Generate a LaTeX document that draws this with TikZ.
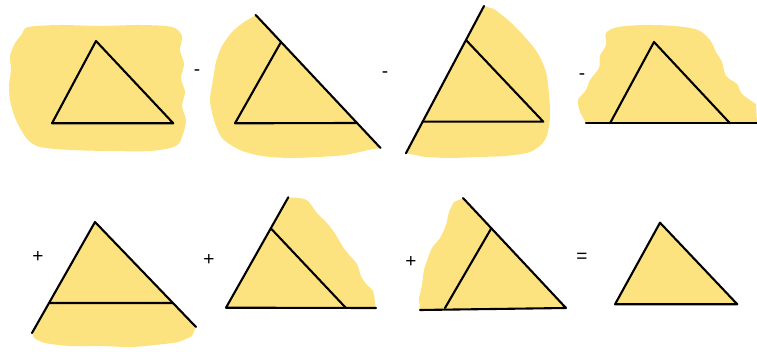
\documentclass[tikz,border=0pt]{standalone}
\usepackage{fontspec}
\newfontfamily\signfont{Liberation Sans}
\usetikzlibrary{calc}
\definecolor{hl}{RGB}{253,226,128}
\begin{document}
\begin{tikzpicture}[x=1pt, y=-1pt,
    edgeline/.style={line width=2.1pt, line cap=round, line join=round},
    region/.style={fill=hl},
    sign/.style={font=\signfont\fontsize{19}{22}\selectfont, inner sep=0pt}]
    \useasboundingbox (0,0) rectangle (757,352);

    % top row
    \fill[region] plot[smooth cycle] coordinates {(28,27) (60,25) (100,26) (140,25) (172,27) (182,36) (180,50) (184,64) (181,78) (185,92) (182,106) (186,120) (183,134) (176,146) (150,151) (110,151) (70,150) (40,147) (28,140) (20,128) (14,115) (10,100) (9,85) (11,70) (10,57) (14,45) (22,34)};
    \coordinate (a1) at (96,41);
    \coordinate (b1) at (52,123.3);
    \coordinate (c1) at (173.3,123.3);
    \draw[edgeline] (a1) -- (b1) -- (c1) -- cycle;

    \coordinate (t2) at (255.7,15);
    \coordinate (e2) at (380.5,148);
    \coordinate (a2) at ($(t2)!0.203!(e2)$);
    \coordinate (c2) at ($(t2)!0.812!(e2)$);
    \coordinate (b2) at (235,123.3);
    \fill[region] (t2) -- (e2) -- plot[smooth] coordinates {(368,150) (345,155) (318,157) (290,158) (262,156) (240,150) (222,138) (214,120) (210,100) (213,80) (216,62) (222,46) (232,32) (244,22)} -- cycle;
    \draw[edgeline] (t2) -- (e2);
    \draw[edgeline] (a2) -- (b2) -- (c2);

    \coordinate (t3) at (484,6);
    \coordinate (e3) at (405.9,153.3);
    \coordinate (a3) at ($(t3)!0.231!(e3)$);
    \coordinate (b3) at ($(t3)!0.785!(e3)$);
    \coordinate (c3) at (543.3,121.7);
    \fill[region] (t3) -- (e3) -- plot[smooth] coordinates {(425,157) (450,158) (478,157) (505,156) (530,152) (545,140) (550,118) (549,95) (546,72) (537,52) (523,35) (508,20) (494,9)} -- cycle;
    \draw[edgeline] (t3) -- (e3);
    \draw[edgeline] (a3) -- (c3) -- (b3);

    \coordinate (l4) at (586,123.3);
    \coordinate (r4) at (757,123.3);
    \coordinate (a4) at (654,42);
    \coordinate (b4) at (610,123.3);
    \coordinate (c4) at (730,123.3);
    \fill[region] (r4) -- plot[smooth] coordinates {(756,104) (742,94) (737,84) (726,76) (722,62) (716,52) (710,40) (698,30) (675,26) (645,25) (618,27) (606,33) (606,45) (600,56) (599,68) (590,80) (586,90) (578,100) (580,112)} -- (l4) -- cycle;
    \draw[edgeline] (l4) -- (r4);
    \draw[edgeline] (b4) -- (a4) -- (c4);

    \node (m1) [sign] at (197,73) {-};
    \node (m2) [sign] at (385,75) {-};
    \node (m3) [sign] at (582,77) {-};

    % bottom row
    \coordinate (a5) at (95,222);
    \coordinate (l5) at (32,333);
    \coordinate (r5) at (196,327);
    \coordinate (b5) at ($(a5)!0.7297!(l5)$);
    \coordinate (c5) at ($(a5)!0.7714!(r5)$);
    \fill[region] (a5) -- (r5) -- plot[smooth] coordinates {(192,336) (178,342) (155,345) (130,347) (100,346) (70,346) (45,343) (34,338)} -- (l5) -- cycle;
    \draw[edgeline] (l5) -- (a5) -- (r5);
    \draw[edgeline] (b5) -- (c5);

    \coordinate (t6) at (288.3,197.3);
    \coordinate (l6) at (226,307.7);
    \coordinate (v6) at ($(t6)!0.281!(l6)$);
    \coordinate (s6) at (345.7,307.7);
    \coordinate (r6) at (376,308);
    \fill[region] (l6) -- (t6) -- plot[smooth] coordinates {(300,198) (308,201) (317,213) (326,222) (334,232) (343,247) (350,256) (357,264) (361,276) (366,284) (373,291) (375,303)} -- (r6) -- cycle;
    \draw[edgeline] (t6) -- (l6) -- (r6);
    \draw[edgeline] (v6) -- (s6);

    \coordinate (t7) at (463,198);
    \coordinate (r7) at (566,308);
    \coordinate (v7) at ($(t7)!0.275!(r7)$);
    \coordinate (s7) at (445,308);
    \coordinate (l7) at (420,310);
    \fill[region] (t7) -- (r7) -- (l7) -- plot[smooth] coordinates {(419,298) (422,285) (424,270) (428,258) (432,248) (440,238) (446,225) (449,212) (454,202)} -- cycle;
    \draw[edgeline] (t7) -- (r7) -- (l7);
    \draw[edgeline] (v7) -- (s7);

    \coordinate (a8) at (660,222.7);
    \coordinate (b8) at (615,304.3);
    \coordinate (c8) at (737.3,304.3);
    \fill[region] (a8) -- (b8) -- (c8) -- cycle;
    \draw[edgeline] (a8) -- (b8) -- (c8) -- cycle;

    \node (p1) [sign] at (38,257) {+};
    \node (p2) [sign] at (209,260) {+};
    \node (p3) [sign] at (411,262) {+};
    \node (q1) [sign] at (582,258) {=};
\end{tikzpicture}
\end{document}
